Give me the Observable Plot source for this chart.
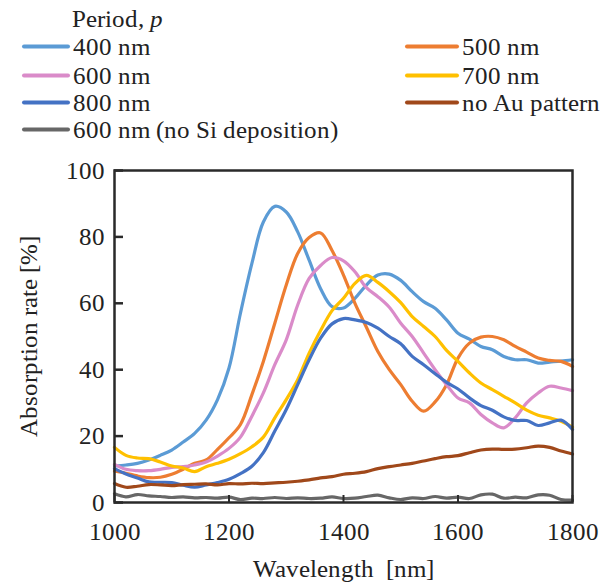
<!DOCTYPE html>
<html><head><meta charset="utf-8">
<script src="https://cdn.jsdelivr.net/npm/d3@7"></script>
<script src="https://cdn.jsdelivr.net/npm/@observablehq/plot@0.6"></script>
<style>
@font-face{font-family:"ChartSerif";src:local("Liberation Serif"),local("LiberationSerif"),local("LiberationSerif-Regular");font-style:normal;font-weight:400;}
@font-face{font-family:"ChartSerif";src:local("Liberation Serif Italic"),local("LiberationSerif-Italic");font-style:italic;font-weight:400;}
body{margin:0;background:#fff;color:#222;}
#legend{position:relative;width:610px;height:150px;}
.item{position:absolute;display:flex;align-items:center;font-size:25px;line-height:1;white-space:nowrap;transform:translateY(-50%);}
.sw{display:inline-block;height:4px;border-radius:2px;margin-right:3px;}
#chart svg{display:block;}
</style></head><body>
<div id="legend"></div>
<div id="chart"></div>
<script>
const wavelengths = [1000,1020,1040,1060,1080,1100,1120,1140,1160,1180,1200,1220,1240,1260,1280,1300,1320,1340,1360,1380,1400,1420,1440,1460,1480,1500,1520,1540,1560,1580,1600,1620,1640,1660,1680,1700,1720,1740,1760,1780,1800];
const p400 = [11,11.3,11.8,12.8,14.2,15.8,18.2,20.8,24.8,31,40.5,57,72,84.5,89.2,87.5,81.5,73,64.4,59,58.6,61.5,65.5,68.5,68.8,66.9,63.5,60.5,58.5,55,51,49.2,47,46,44,43,43,42,42.3,42.6,43];
const p500 = [9.5,8.8,8,7.5,7.6,8.5,10,11.8,12.8,16,19.5,23.5,32.5,42.5,54,65.5,75,79.8,81.2,75.9,68.5,60,52.8,45.5,40,35.5,30.5,27.5,30.3,35.5,43.5,48,49.8,50,49,47,45.3,43.5,42.8,42.5,41];
const p600 = [11.5,10,9.6,9.6,10,10.6,10.8,11.3,12.2,14,16.3,19.7,26,33,41.5,49,59.5,67.5,71.4,73.8,72.8,69.5,64.7,62,58.8,54,50,45,40,35.5,31.5,30,26.5,24,22.5,25.5,30,33,35,34.5,33.7];
const p700 = [16.6,14.2,13.4,13.2,12.2,11,10.4,9.3,10.8,11.8,13,14.7,16.8,19.7,25.5,31,37,45,51.8,57.8,61.5,66,68.4,66.3,63.5,60.2,56,53,50,45.8,42.5,39,36,34,32,30,27.8,26.3,25.5,24.5,22.7];
const p800 = [10.2,8.6,7.4,6.2,6.1,6,5.2,4.6,5.3,6,7,8.7,10.9,15,21.5,28,35.5,43,49.5,53.8,55.4,55,54.2,52.5,50,47.8,44,41.5,38.8,36.2,34.2,31.5,29.2,27.8,25.8,24.7,24.7,23.2,24,24.8,22];
const noAu = [5.7,4.6,4.9,5.4,5.3,5.1,5.4,5.5,5.6,5.3,5.7,5.6,5.8,5.7,5.9,6.1,6.4,6.8,7.4,7.8,8.5,8.8,9.3,10.2,10.8,11.3,11.8,12.5,13.2,13.8,14.1,15,15.8,16.1,16,16.1,16.5,17,16.6,15.5,14.6];
const noSi = [2.6,1.7,2.4,2,1.8,1.5,1.7,1.4,1.5,1.3,1.6,0.9,1.3,1.2,1.5,1.2,1.4,1.2,1.3,1.7,1.2,1.3,1.8,2.2,1.4,0.9,1.4,1.2,1.8,1.3,1.6,1.2,2.3,2.5,1.3,1.6,1.4,2.3,2.2,0.9,0.7];
const seriesNames = ["400 nm","500 nm","600 nm","700 nm","800 nm","no Au pattern","600 nm (no Si deposition)"];
const seriesValues = [p400,p500,p600,p700,p800,noAu,noSi];
const seriesColors = ["#5B9BD5","#ED7D31","#DA8BC9","#FFC000","#4472C4","#A0481A","#676767"];
const xTicks = [1000,1200,1400,1600,1800];
const yTicks = [0,20,40,60,80,100];
const legendTitle = "Period, ";
const legendTitleVar = "p";
const xLabel = "Wavelength  [nm]";
const yLabel = "Absorption rate [%]";
const FONT = '"ChartSerif", "Times New Roman", Tinos, "Liberation Serif", serif';
const setFont = el => el.style.setProperty("font-family", FONT, "important");

// legend (HTML, above the SVG)
const leg = document.getElementById("legend");
const title = document.createElement("div");
title.className = "item";
title.style.left = "72px"; title.style.top = "18px";
title.appendChild(document.createTextNode(legendTitle.trimEnd() + "\u00a0"));
const it_ = document.createElement("i");
it_.textContent = legendTitleVar;
title.appendChild(it_);
leg.appendChild(title);
// layout: [left, top, swatchWidth]
const legendLayout = [
  [22,46,48],[405,46,54],
  [22,75,48],[405,75,54],
  [22,102,48],[405,102,54],
  [22,129,48]
];
seriesNames.forEach((name, i) => {
  const [l, t, w] = legendLayout[i];
  const it = document.createElement("div");
  it.className = "item";
  it.style.left = l + "px"; it.style.top = t + "px";
  const sw = document.createElement("span");
  sw.className = "sw"; sw.style.width = w + "px"; sw.style.background = seriesColors[i];
  it.appendChild(sw);
  const tx = document.createElement("span");
  tx.textContent = name;
  it.appendChild(tx);
  leg.appendChild(it);
});
leg.querySelectorAll("div, span, i").forEach(setFont);
it_.style.fontStyle = "italic";

const data = [];
seriesNames.forEach((name, i) => {
  wavelengths.forEach((w, j) => data.push({s: name, x: w, y: seriesValues[i][j]}));
});

const chart = Plot.plot({
  width: 610, height: 437,
  marginTop: 20, marginBottom: 85, marginLeft: 114, marginRight: 38,
  style: {background: "#fff"},
  x: {domain: [1000, 1800]},
  y: {domain: [0, 100]},
  color: {domain: seriesNames, range: seriesColors},
  marks: [
    Plot.line(data, {x: "x", y: "y", z: "s", stroke: "s", strokeWidth: 3.2, curve: "catmull-rom"}),
    Plot.frame({stroke: "#2a2a2a", strokeWidth: 2.5}),
    Plot.axisY(yTicks, {tickSize: -9, tickFormat: () => "", stroke: "#2a2a2a", strokeWidth: 2.5, label: null}),
    Plot.axisX(xTicks, {tickSize: -7, tickFormat: () => "", stroke: "#2a2a2a", strokeWidth: 2, label: null}),
    Plot.axisY(yTicks, {tickSize: 0, tickPadding: 10, fontSize: 25, fill: "#222", label: null, tickFormat: d => String(d)}),
    Plot.axisX(xTicks, {tickSize: 0, tickPadding: 20, fontSize: 25, fill: "#222", label: null, tickFormat: d => String(d)}),
    Plot.text([xLabel], {text: d => d, frameAnchor: "bottom", dy: 66, lineAnchor: "middle", fontSize: 25, fill: "#222"}),
    Plot.text([yLabel], {text: d => d, frameAnchor: "left", dx: -86, rotate: -90, lineAnchor: "middle", textAnchor: "middle", fontSize: 25, fill: "#222"})
  ]
});
chart.setAttribute("font-family", FONT);
setFont(chart);
chart.querySelectorAll("g, text, tspan").forEach(el => { setFont(el); if (el.hasAttribute("font-family")) el.setAttribute("font-family", FONT); });
document.getElementById("chart").appendChild(chart);
</script>
</body></html>
